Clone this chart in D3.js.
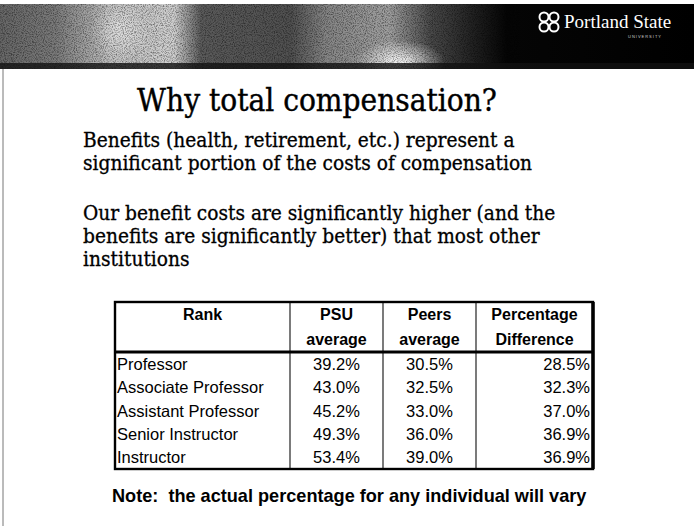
<!DOCTYPE html>
<html>
<head>
<meta charset="utf-8">
<script src="https://cdn.jsdelivr.net/npm/d3@7"></script>
<style>
  body { margin: 0; background: #fff; }
  svg { display: block; }
  text { white-space: pre; }
</style>
</head>
<body>
<div id="slide"></div>
<script>
// slide text
let title = "Why total compensation?";
let bodyLines = [
    "Benefits (health, retirement, etc.) represent a",
    "significant portion of the costs of compensation",
    "",
    "Our benefit costs are significantly higher (and the",
    "benefits are significantly better) that most other",
    "institutions"
];
let note = "Note:  the actual percentage for any individual will vary";

// table data
let headers = [["Rank"], ["PSU", "average"], ["Peers", "average"], ["Percentage", "Difference"]];
let ranks = ["Professor", "Associate Professor", "Assistant Professor", "Senior Instructor", "Instructor"];
let psuAvg = [39.2, 43.0, 45.2, 49.3, 53.4];
let peersAvg = [30.5, 32.5, 33.0, 36.0, 39.0];
let pctDiff = [28.5, 32.3, 37.0, 36.9, 36.9];

let width = 694, height = 526;
let serif = "'DejaVu Serif Condensed', 'DejaVu Serif', serif";

let svg = d3.select("#slide").append("svg")
    .attr("width", width)
    .attr("height", height);

let defs = svg.append("defs");

// banner photo, approximated with a gradient and grain
let grad = defs.append("linearGradient").attr("id", "bannerGrad");
[[0, "#666"], [0.08, "#7a7a7a"], [0.16, "#c0c0c0"], [0.25, "#d0d0d0"], [0.29, "#5a5a5a"],
 [0.42, "#505050"], [0.47, "#858585"], [0.56, "#a0a0a0"], [0.62, "#4a4a4a"], [0.68, "#222"],
 [0.73, "#050505"], [1, "#000"]].forEach(s => {
    grad.append("stop").attr("offset", s[0]).attr("stop-color", s[1]);
});
let blob = defs.append("radialGradient").attr("id", "blob");
blob.append("stop").attr("offset", 0).attr("stop-color", "#fff").attr("stop-opacity", 0.95);
blob.append("stop").attr("offset", 1).attr("stop-color", "#fff").attr("stop-opacity", 0);

let grain = defs.append("filter").attr("id", "grain")
    .attr("x", 0).attr("y", 0).attr("width", 1).attr("height", 1);
grain.append("feTurbulence").attr("type", "fractalNoise")
    .attr("baseFrequency", 0.9).attr("numOctaves", 2).attr("seed", 3);
grain.append("feColorMatrix").attr("type", "matrix")
    .attr("values", "0 0 0 0 0  0 0 0 0 0  0 0 0 0 0  0 0 0 -2.2 1.3");

let banner = svg.append("g").attr("class", "banner");
banner.append("rect")
    .attr("x", 0).attr("y", 4).attr("width", width).attr("height", 65)
    .attr("fill", "url(#bannerGrad)");
banner.append("ellipse")
    .attr("cx", 400).attr("cy", 62).attr("rx", 45).attr("ry", 22)
    .attr("fill", "url(#blob)");
banner.append("ellipse")
    .attr("cx", 120).attr("cy", 30).attr("rx", 30).attr("ry", 30)
    .attr("fill", "url(#blob)").attr("opacity", 0.5);
banner.append("rect")
    .attr("x", 0).attr("y", 4).attr("width", 520).attr("height", 65)
    .attr("filter", "url(#grain)").attr("opacity", 0.5);
banner.append("rect")
    .attr("x", 0).attr("y", 63).attr("width", width).attr("height", 6)
    .attr("fill", "#111").attr("opacity", 0.8);

// logo
let logo = banner.append("g").attr("transform", "translate(549,22)");
[[-5, -5], [5, -5], [-5, 5], [5, 5]].forEach(p => {
    logo.append("circle")
        .attr("cx", p[0]).attr("cy", p[1]).attr("r", 4.5)
        .attr("fill", "none").attr("stroke", "#fff").attr("stroke-width", 2);
});
banner.append("text")
    .attr("x", 564).attr("y", 28)
    .attr("font-family", "Liberation Serif, serif")
    .attr("font-size", 19)
    .attr("fill", "#fff")
    .text("Portland State");
banner.append("text")
    .attr("x", 628).attr("y", 38)
    .attr("font-family", "Liberation Sans, sans-serif")
    .attr("font-size", 4)
    .attr("letter-spacing", 1)
    .attr("fill", "#ccc")
    .text("UNIVERSITY");

// left rule of the slide frame
svg.append("line")
    .attr("x1", 3).attr("x2", 3).attr("y1", 69).attr("y2", height)
    .attr("stroke", "#777").attr("stroke-width", 1);

// scale font so a text fits a given width
function fitTo(sel, target) {
    let w = sel.node().getComputedTextLength();
    let fs = parseFloat(sel.attr("font-size"));
    return fs * target / w;
}

let titleText = svg.append("text")
    .attr("x", 317).attr("y", 111)
    .attr("text-anchor", "middle")
    .attr("font-family", serif)
    .attr("font-size", 30)
    .attr("fill", "#000")
    .attr("stroke", "#000").attr("stroke-width", 0.4)
    .text(title);
titleText.attr("font-size", fitTo(titleText, 360));

let lineY = d3.scaleLinear().domain([0, 1]).range([147, 170]);
let bodyText = svg.append("g")
    .attr("font-family", serif)
    .attr("fill", "#000")
    .attr("stroke", "#000").attr("stroke-width", 0.3)
    .selectAll("text")
    .data(bodyLines)
    .join("text")
    .attr("x", 83)
    .attr("y", (d, i) => i < 2 ? lineY(i) : lineY(i) + 4)
    .attr("font-size", 19)
    .text(d => d);
let bodySize = fitTo(bodyText.filter((d, i) => i === 0), 432);
bodyText.attr("font-size", bodySize);

// table
let tbl = svg.append("g")
    .attr("font-family", "Liberation Sans, Arial, sans-serif")
    .attr("fill", "#000");

let edges = [115, 290, 383, 476, 593];
let colX = d3.scaleOrdinal().domain([0, 1, 2, 3]).range(edges.slice(0, 4));
let colR = d3.scaleOrdinal().domain([0, 1, 2, 3]).range(edges.slice(1));
let headTop = 302, headBottom = 352, tableBottom = 469;
let rowY = d3.scaleBand().domain(ranks).range([headBottom, tableBottom]);

// header text
headers.forEach((h, c) => {
    tbl.selectAll(null)
        .data(h)
        .join("text")
        .attr("x", (colX(c) + colR(c)) / 2)
        .attr("y", (d, i) => 320 + i * 25)
        .attr("text-anchor", "middle")
        .attr("font-weight", "bold")
        .attr("font-size", 16)
        .text(d => d);
});

let fmt = d => d.toFixed(1) + "%";
let rows = tbl.selectAll("g.row")
    .data(ranks.map((r, i) => ({ rank: r, psu: psuAvg[i], peers: peersAvg[i], diff: pctDiff[i] })))
    .join("g")
    .attr("class", "row")
    .attr("transform", d => "translate(0," + (rowY(d.rank) + rowY.bandwidth() / 2 + 6) + ")")
    .attr("font-size", 16.5);

rows.append("text")
    .attr("x", colX(0) + 2)
    .text(d => d.rank);
rows.append("text")
    .attr("x", (colX(1) + colR(1)) / 2)
    .attr("text-anchor", "middle")
    .text(d => fmt(d.psu));
rows.append("text")
    .attr("x", (colX(2) + colR(2)) / 2)
    .attr("text-anchor", "middle")
    .text(d => fmt(d.peers));
rows.append("text")
    .attr("x", colR(3) - 3)
    .attr("text-anchor", "end")
    .text(d => fmt(d.diff));

// grid lines
[1, 2, 3].forEach(c => {
    tbl.append("line")
        .attr("x1", colX(c)).attr("x2", colX(c))
        .attr("y1", headTop).attr("y2", tableBottom)
        .attr("stroke", "#222").attr("stroke-width", 1.2);
});
tbl.append("line")
    .attr("x1", edges[0]).attr("x2", edges[4])
    .attr("y1", headBottom).attr("y2", headBottom)
    .attr("stroke", "#000").attr("stroke-width", 3);
tbl.append("rect")
    .attr("x", edges[0]).attr("y", headTop)
    .attr("width", edges[4] - edges[0]).attr("height", tableBottom - headTop)
    .attr("fill", "none").attr("stroke", "#000").attr("stroke-width", 2.4);
tbl.append("line")
    .attr("x1", edges[4]).attr("x2", edges[4])
    .attr("y1", headTop).attr("y2", tableBottom)
    .attr("stroke", "#000").attr("stroke-width", 3.5);

// note
let noteText = svg.append("text")
    .attr("x", 112).attr("y", 502)
    .attr("font-family", "Liberation Sans, Arial, sans-serif")
    .attr("font-weight", "bold")
    .attr("font-size", 15)
    .attr("fill", "#000")
    .text(note);
noteText.attr("font-size", fitTo(noteText, 475));
</script>
</body>
</html>
